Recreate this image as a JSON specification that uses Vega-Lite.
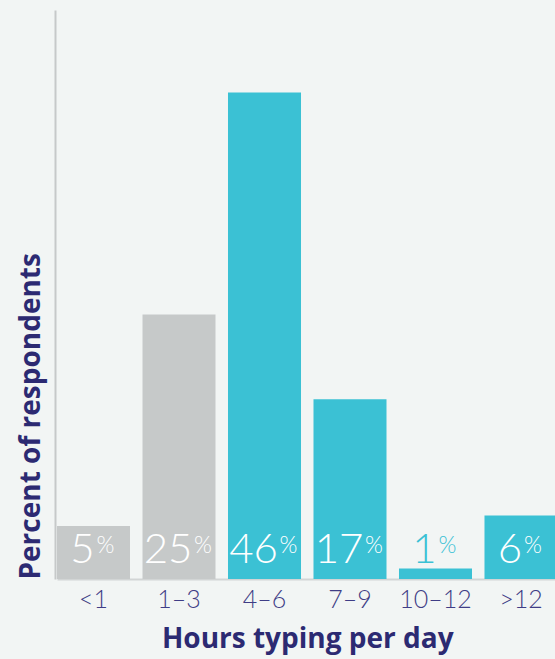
{
  "$schema": "https://vega.github.io/schema/vega-lite/v6.json",
  "width": 500,
  "height": 569,
  "autosize": {"type": "none"},
  "padding": {"left": 55, "top": 10, "right": 0, "bottom": 80},
  "background": "#f2f5f4",
  "config": {"view": {"stroke": null}, "font": "Open Sans"},
  "data": {
    "values": [
      {"hours": "<1", "pct": 5},
      {"hours": "1–3", "pct": 25},
      {"hours": "4–6", "pct": 46},
      {"hours": "7–9", "pct": 17},
      {"hours": "10–12", "pct": 1},
      {"hours": ">12", "pct": 6}
    ]
  },
  "encoding": {
    "x": {
      "field": "hours",
      "type": "nominal",
      "sort": null,
      "scale": {"range": [2, 502.5], "paddingInner": 0.146, "paddingOuter": 0},
      "axis": {
        "title": "Hours typing per day",
        "titleFont": "Open Sans",
        "titleFontSize": 28,
        "titleFontWeight": "bold",
        "titleColor": "#2c2a72",
        "titlePadding": 13,
        "labelAngle": 0,
        "labelFont": "Lato",
        "labelFontSize": 25,
        "labelFontWeight": 300,
        "labelColor": "#3f3d86",
        "labelPadding": 8,
        "ticks": false,
        "domainColor": "#d2d5d5",
        "domainWidth": 2
      }
    }
  },
  "layer": [
    {
      "mark": {"type": "bar"},
      "encoding": {
        "y": {
          "field": "pct",
          "type": "quantitative",
          "scale": {"domain": [0, 53.8], "nice": false},
          "axis": {
            "title": "Percent of respondents",
            "titleFont": "Open Sans",
            "titleFontSize": 28,
            "titleFontWeight": "bold",
            "titleColor": "#2c2a72",
            "titleAnchor": "start",
            "titlePadding": 10,
            "labels": false,
            "ticks": false,
            "grid": false,
            "domainColor": "#c6c9c9",
            "domainWidth": 2
          }
        },
        "color": {
          "condition": {"test": "indexof(['<1','1–3'], datum.hours) >= 0", "value": "#c6c9c9"},
          "value": "#3bc1d4"
        }
      }
    },
    {
      "mark": {"type": "text", "font": "Lato", "fontSize": 42, "fontWeight": 300, "align": "center", "baseline": "alphabetic", "dx": -11, "dy": -16},
      "encoding": {
        "y": {"datum": 0, "type": "quantitative"},
        "text": {"field": "pct", "type": "quantitative", "format": ".0f"},
        "color": {"condition": {"test": "datum.pct < 2", "value": "#3bc1d4"}, "value": "#ffffff"}
      }
    },
    {
      "transform": [{"filter": "datum.pct >= 10"}],
      "mark": {"type": "text", "text": "%", "font": "Lato", "fontSize": 23, "fontWeight": 300, "align": "center", "baseline": "alphabetic", "dx": 24, "dy": -26},
      "encoding": {
        "y": {"datum": 0, "type": "quantitative"},
        "color": {"value": "#ffffff"}
      }
    },
    {
      "transform": [{"filter": "datum.pct < 10"}],
      "mark": {"type": "text", "text": "%", "font": "Lato", "fontSize": 23, "fontWeight": 300, "align": "center", "baseline": "alphabetic", "dx": 12, "dy": -26},
      "encoding": {
        "y": {"datum": 0, "type": "quantitative"},
        "color": {"condition": {"test": "datum.pct < 2", "value": "#3bc1d4"}, "value": "#ffffff"}
      }
    }
  ]
}
